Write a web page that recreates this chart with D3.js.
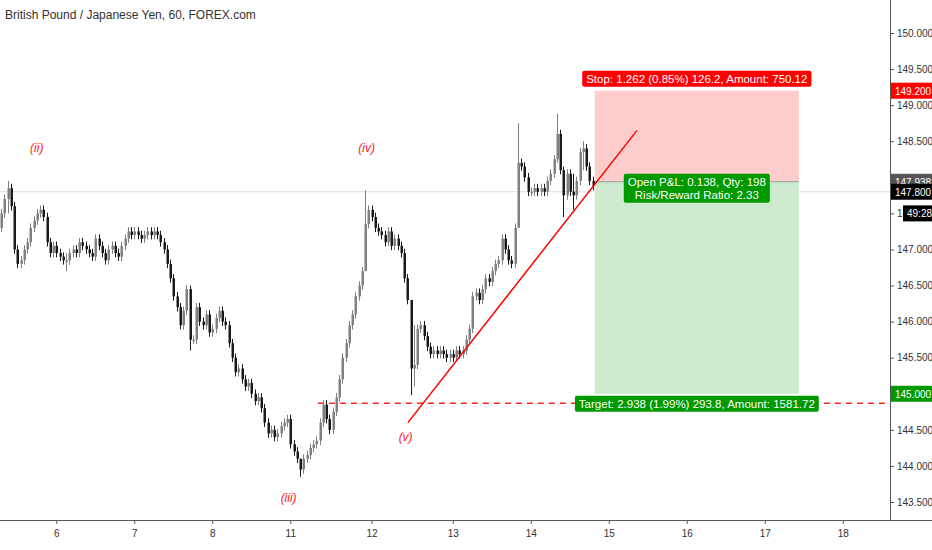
<!DOCTYPE html>
<html><head><meta charset="utf-8">
<script src="https://cdn.jsdelivr.net/npm/d3@7"></script>
<style>
body{margin:0;background:#fff;font-family:"Liberation Sans",Arial,sans-serif}
</style></head><body>
<svg id="chart" width="932" height="550"></svg>
<script>
// hourly closes, GBP/JPY
var closes = [
 147.5,147.7,147.85,147.6,147.0,146.8,146.85,147.0,147.1,147.3,
 147.4,147.5,147.55,147.45,147.1,146.95,147.05,146.95,146.9,146.85,
 146.85,146.95,147.0,146.95,147.1,147.05,147.0,146.95,146.9,147.15,
 147.05,146.95,146.85,147.0,147.05,146.95,146.9,147.05,147.15,147.25,
 147.2,147.25,147.2,147.15,147.2,147.25,147.2,147.25,147.2,147.1,
 147.0,146.8,146.6,146.35,146.2,145.95,146.15,146.45,145.75,145.75,
 146.2,146.0,145.95,146.1,145.85,145.9,146.05,146.15,146.0,145.95,
 145.7,145.5,145.3,145.35,145.2,145.1,145.15,145.0,144.9,144.95,
 144.8,144.6,144.45,144.5,144.4,144.45,144.55,144.6,144.65,144.3,
 144.2,144.1,143.95,144.1,144.15,144.25,144.3,144.35,144.6,144.85,
 144.65,144.5,144.75,144.95,145.2,145.5,145.7,145.95,146.1,146.35,
 146.5,146.7,147.35,147.55,147.45,147.3,147.25,147.2,147.1,147.25,
 147.05,147.15,147.05,146.95,146.6,146.3,145.35,145.4,145.9,145.95,
 145.8,145.65,145.55,145.6,145.55,145.6,145.55,145.5,145.55,145.5,
 145.6,145.55,145.6,145.75,145.9,146.35,146.4,146.3,146.45,146.6,
 146.55,146.7,146.8,146.85,147.15,147.0,146.85,146.8,147.3,148.2,
 148.15,148.0,147.8,147.8,147.85,147.8,147.85,147.8,147.95,148.05,
 148.25,148.6,148.1,147.75,148.05,147.8,147.75,147.95,148.35,148.4,
 148.15,147.95,147.88
]
// long wicks: [bar, high, low]
var wicks = [[2,147.95,147.5],[20,146.95,146.7],[58,146.5,145.6],[92,144.1,143.85],
 [112,147.82,146.7],[126,146.3,144.98],[127,145.95,145.1],[159,148.75,147.3],
 [171,148.88,148.2],[173,148.15,147.45],[176,148.05,147.55],[179,148.5,148.1]]
var dayTicks = [17,41,65,89,114,139,163,187,211,235,259]
var dayLabels = ['6','7','8','11','12','13','14','15','16','17','18']
var priceTicks = [143.5,144,144.5,145,145.5,146,146.5,147,147.5,148,148.5,149,149.5,150]
var waveLabels = [['(ii)',11,148.35],['(iv)',112.5,148.35],['(iii)',88.5,143.5],['(v)',124.5,144.35]]
var trend = [[125.2,144.6],[195.7,148.65]]
var entry = 147.938, stop = 149.2, target = 145.0, lastPrice = 147.8, supportLevel = 144.87

var svg = d3.select('#chart')
var W = 890, H = 520
var x = d3.scaleLinear().domain([0,1]).range([1,4.25])
var y = d3.scaleLinear().domain([143.5,150]).range([502,33])

var candles = closes.map(function(c,i){
    var o = i ? closes[i-1] : 147.3
    var hi = Math.max(o,c)+0.06, lo = Math.min(o,c)-0.06
    wicks.forEach(function(w){ if(w[0]===i){ hi=w[1]; lo=w[2] } })
    return {i:i,o:o,c:c,h:hi,l:lo}
})

// right axis (labels under the price tags are hidden, as on the platform)
var ax = svg.append('g').attr('transform','translate('+W+',0)')
    .call(d3.axisRight(y).tickValues(priceTicks).tickFormat(d3.format('.3f')).tickSize(4).tickPadding(3))
ax.select('.domain').remove()
ax.selectAll('text').attr('font-size',10).attr('fill','#333')
    .attr('display',function(d){return (d===145||d===148)?'none':null})
ax.selectAll('line').attr('stroke','#555')
svg.append('line').attr('x1',W+0.5).attr('x2',W+0.5).attr('y1',0).attr('y2',H).attr('stroke','#555')
var bx = svg.append('g').attr('transform','translate(0,'+H+')')
    .call(d3.axisBottom(x).tickValues(dayTicks).tickFormat(function(d,i){return dayLabels[i]}).tickSize(4).tickPadding(6))
bx.select('.domain').remove()
bx.selectAll('text').attr('font-size',10).attr('fill','#333')
bx.selectAll('line').attr('stroke','#555')
svg.append('line').attr('x1',0).attr('x2',932).attr('y1',H+0.5).attr('y2',H+0.5).attr('stroke','#555')

// position boxes
var x0 = x(182.7), x1 = x(245.5)
svg.append('rect').attr('x',x0).attr('width',x1-x0).attr('y',y(stop)).attr('height',y(entry)-y(stop)).attr('fill','#fdcdcc')
svg.append('rect').attr('x',x0).attr('width',x1-x0).attr('y',y(entry)).attr('height',y(target)-y(entry)).attr('fill','#cdeccf')
svg.append('line').attr('x1',x0).attr('x2',x1).attr('y1',y(entry)).attr('y2',y(entry)).attr('stroke','#999')
svg.append('line').attr('x1',0).attr('x2',W).attr('y1',y(lastPrice)).attr('y2',y(lastPrice)).attr('stroke','#ddd')

svg.append('line').attr('x1',x(97.5)).attr('x2',W).attr('y1',y(supportLevel)).attr('y2',y(supportLevel))
    .attr('stroke','#f22').attr('stroke-width',1.5).attr('stroke-dasharray','6,5')

// candles
var g = svg.append('g')
g.selectAll('line.w').data(candles).enter().append('line')
    .attr('x1',function(d){return Math.round(x(d.i))+0.5}).attr('x2',function(d){return Math.round(x(d.i))+0.5})
    .attr('y1',function(d){return y(d.h)}).attr('y2',function(d){return y(d.l)})
    .attr('stroke',function(d){return d.c>=d.o?'#808080':'#1a1a1a'})
g.selectAll('rect').data(candles).enter().append('rect')
    .attr('x',function(d){return Math.round(x(d.i))-0.5}).attr('width',2.5)
    .attr('y',function(d){return y(Math.max(d.o,d.c))})
    .attr('height',function(d){return Math.max(1.5,Math.abs(y(d.o)-y(d.c)))})
    .attr('fill',function(d){return d.c>=d.o?'#808080':'#1a1a1a'})

svg.append('line').attr('x1',x(trend[0][0])).attr('y1',y(trend[0][1])).attr('x2',x(trend[1][0])).attr('y2',y(trend[1][1]))
    .attr('stroke','#f00').attr('stroke-width',1.5)

svg.selectAll('text.wave').data(waveLabels).enter().append('text')
    .attr('x',function(d){return x(d[1])}).attr('y',function(d){return y(d[2])})
    .attr('text-anchor','middle').attr('font-size',12).attr('font-style','italic').attr('fill','#f22').text(function(d){return d[0]})

function tag(cx,cy,lines,fill){
    var t = svg.append('g')
    var txt = t.append('text').attr('text-anchor','middle').attr('font-size',11.5).attr('fill','#fff')
    lines.forEach(function(s,i){ txt.append('tspan').attr('x',cx).attr('y',cy+i*13).text(s) })
    var b = txt.node().getBBox()
    t.insert('rect','text').attr('x',b.x-4).attr('y',b.y-2).attr('width',b.width+8).attr('height',b.height+4).attr('rx',2).attr('fill',fill)
}
var cx = (x0+x1)/2
tag(cx,y(stop)-8,['Stop: 1.262 (0.85%) 126.2, Amount: 750.12'],'#f00')
tag(cx,y(entry)+4,['Open P&L: 0.138, Qty: 198','Risk/Reward Ratio: 2.33'],'#090')
tag(cx,y(target)+14,['Target: 2.938 (1.99%) 293.8, Amount: 1581.72'],'#090')

function axTag(p,label,fill,dx){
    svg.append('rect').attr('x',W+1+(dx||0)).attr('y',y(p)-8).attr('width',41-(dx||0)).attr('height',16).attr('fill',fill)
    svg.append('text').attr('x',W+5+(dx||0)).attr('y',y(p)+4).attr('font-size',10).attr('fill','#fff').text(label)
}
axTag(stop,'149.200','#f00')
axTag(entry,'147.938','#555')
axTag(lastPrice,'147.800','#000')
axTag(target,'145.000','#090')
axTag(147.5,'49:28','#000',12)

svg.append('text').attr('x',5).attr('y',19).attr('font-size',12).attr('fill','#333')
    .text('British Pound / Japanese Yen, 60, FOREX.com')
</script>
</body></html>
